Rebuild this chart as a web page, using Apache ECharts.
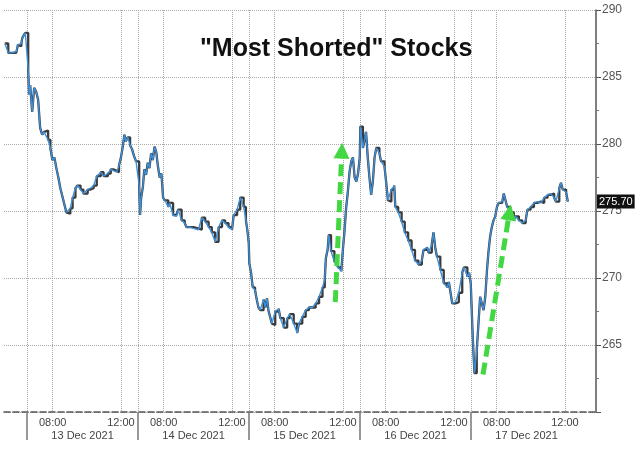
<!DOCTYPE html>
<html>
<head>
<meta charset="utf-8">
<script src="https://cdn.jsdelivr.net/npm/echarts@6/dist/echarts.min.js"></script>
<style>html,body{margin:0;padding:0;background:#fff;}#c{width:640px;height:449px;}</style>
</head>
<body>
<div id="c"></div>
<script>
// Session clock 06:30-13:00; day index relative to 13 Dec 2021
const dayNames = ['13 Dec 2021','14 Dec 2021','15 Dec 2021','16 Dec 2021','17 Dec 2021'];
const timeTickLabels = ['08:00','12:00'];
const lastPrice = 275.70;

const dec10Times = ['11:42','11:54','12:06','12:22','12:28','12:34','12:40','12:43','12:48','12:54'];
const dec10Prices = [287.5,286.8,286.8,286.9,287.4,287.3,287.5,287.9,288.1,288.3];

const dec13Times = ['06:34','06:37','06:41','06:48','06:55','07:02','07:09','07:16','07:23','07:30','07:37','07:44','07:52','07:59','08:06','08:13','08:20','08:27','08:34','08:41','08:48','08:55','09:02','09:10','09:20','09:27','09:38','09:48','10:03','10:13','10:24','10:35','10:49','10:59','11:14','11:24','11:35','11:45','11:53','12:00','12:07','12:12','12:17','12:24','12:32','12:39','12:46','12:53','12:58'];
const dec13Prices = [285.5,283.7,284.4,282.4,284.2,283.9,283.3,281.2,280.7,280.9,281.0,280.3,279.7,278.8,279.0,278.2,277.5,276.7,276.1,275.5,274.9,274.8,275.2,276.0,276.7,276.9,276.6,276.3,276.6,276.7,276.9,277.6,277.9,277.6,277.8,278.1,278.0,277.9,278.4,279.0,279.9,280.7,280.2,280.5,279.9,279.6,279.1,278.7,278.7];

const dec14Times = ['06:34','06:37','06:41','06:47','06:52','06:58','07:04','07:10','07:16','07:22','07:28','07:34','07:40','07:46','07:52','07:58','08:04','08:16','08:21','08:33','08:45','08:51','09:03','09:14','09:20','09:32','09:44','09:50','10:02','10:14','10:26','10:38','10:49','11:01','11:13','11:25','11:36','11:48','12:00','12:06','12:18','12:29','12:41','12:49','12:55','12:59'];
const dec14Prices = [276.9,274.7,276.0,276.8,278.1,277.7,278.6,278.2,279.3,278.8,279.8,279.4,278.3,277.5,277.8,276.0,275.8,275.3,275.6,274.7,274.6,275.1,274.3,274.1,273.8,273.8,273.7,273.7,273.6,274.5,274.2,273.8,273.4,272.7,273.8,274.3,274.1,273.8,273.6,274.7,275.1,276.0,275.3,274.3,273.4,272.6];

const dec15Times = ['06:31','06:37','06:43','06:51','06:57','07:03','07:09','07:21','07:27','07:33','07:38','07:44','07:50','07:56','08:02','08:14','08:20','08:32','08:38','08:44','08:53','09:07','09:19','09:25','09:37','09:49','10:00','10:12','10:24','10:36','10:48','10:56','11:00','11:06','11:10','11:18','11:30','11:42','11:54','12:00','12:05','12:11','12:17','12:23','12:29','12:35','12:41','12:47','12:53','12:59'];
const dec15Prices = [271.1,270.4,269.3,269.1,268.4,267.8,267.6,268.4,267.8,268.5,267.6,267.1,266.6,266.5,267.5,267.7,267.0,266.3,266.3,267.0,267.3,266.6,265.9,266.6,267.1,267.6,267.8,267.8,268.1,268.6,269.3,269.9,271.5,272.1,273.2,272.0,271.2,270.8,270.5,272.2,273.4,275.2,276.4,277.9,278.7,279.0,277.5,277.2,277.8,279.0];

const dec16Times = ['06:31','06:40','06:45','06:51','06:57','07:03','07:09','07:15','07:21','07:27','07:38','07:44','07:56','08:02','08:08','08:14','08:20','08:30','08:34','08:44','08:56','09:07','09:19','09:31','09:43','09:55','10:07','10:13','10:25','10:31','10:42','10:48','10:54','11:00','11:12','11:24','11:36','11:42','11:48','11:54','12:05','12:17','12:29','12:35','12:47','12:53','12:59'];
const dec16Prices = [281.3,279.7,280.2,280.9,279.0,277.5,276.2,277.2,279.0,279.7,279.3,278.7,278.3,277.1,275.8,275.7,276.6,276.9,275.3,274.9,274.2,273.4,272.8,272.1,271.3,271.0,271.3,272.1,272.3,271.9,272.5,273.4,272.3,271.6,270.6,269.6,269.3,269.7,268.9,268.1,268.2,268.9,270.4,270.8,270.1,270.4,269.6];

const dec17Times = ['06:32','06:35','06:38','06:42','06:50','06:56','07:02','07:08','07:14','07:20','07:26','07:31','07:37','07:43','07:49','07:55','08:01','08:07','08:19','08:25','08:31','08:37','08:48','09:00','09:06','09:18','09:30','09:42','09:48','09:59','10:11','10:23','10:35','10:47','10:59','11:10','11:22','11:28','11:40','11:46','11:52','12:04','12:10'];
const dec17Prices = [267.8,266.1,264.6,262.9,264.6,266.6,268.6,268.1,267.6,268.6,270.6,271.9,273.1,273.8,274.3,274.6,275.3,275.6,275.7,276.3,275.8,275.3,274.9,274.3,274.6,274.3,274.1,274.3,275.1,275.3,275.6,275.7,275.6,276.0,276.2,276.3,276.0,275.7,276.7,277.1,276.6,276.4,275.7];

// Annotation arrows: [day index, start time, start price, day index, end time, end price]
const arrowSpecs = [
  [2, '11:33', 268.2, 2, '11:56', 279.5],
  [4, '07:12', 262.8, 4, '08:45', 274.9]
];

const SESSION = 390;
function toX(dayIdx, hhmm) {
  const p = hhmm.split(':').map(Number);
  return dayIdx * SESSION + p[0] * 60 + p[1] - 390;
}
function build(dayIdx, times, prices) {
  return times.map((t, i) => [toX(dayIdx, t), prices[i]]);
}
const seriesData = [].concat(
  build(-1, dec10Times, dec10Prices),
  build(0, dec13Times, dec13Prices),
  build(1, dec14Times, dec14Prices),
  build(2, dec15Times, dec15Prices),
  build(3, dec16Times, dec16Prices),
  build(4, dec17Times, dec17Prices)
);

const separators = dayNames.map((d, i) => i * SESSION);
const timeLabelVals = [];
dayNames.forEach((d, i) => { timeLabelVals.push(toX(i, timeTickLabels[0]), toX(i, timeTickLabels[1])); });
const gridVals = separators.concat(timeLabelVals).sort((a, b) => a - b);
const dateCenters = dayNames.map((d, i) => i * SESSION + SESSION / 2);

const font = "'Liberation Sans', Arial, sans-serif";
const xMin = -81, xMax = 1999;

const chart = echarts.init(document.getElementById('c'), null, {renderer: 'canvas'});
chart.setOption({
  animation: false,
  backgroundColor: '#fff',
  title: {
    text: '"Most Shorted" Stocks',
    left: 195, top: 32,
    textStyle: {fontFamily: font, fontSize: 25, fontWeight: 'bold', color: '#111'}
  },
  grid: {left: 4, right: 44, top: 10, bottom: 37},
  xAxis: [{
    type: 'value', min: xMin, max: xMax, position: 'bottom',
    axisLine: {show: true, onZero: false, lineStyle: {color: '#555', type: 'dashed', width: 1.5}},
    axisTick: {show: false, customValues: gridVals},
    splitLine: {show: true, lineStyle: {color: '#aaa', type: 'dotted', width: 1}},
    axisLabel: {
      customValues: timeLabelVals, margin: 5,
      fontFamily: font, fontSize: 11, color: '#444',
      formatter: v => (((v % SESSION) + SESSION) % SESSION === 90 ? timeTickLabels[0] : timeTickLabels[1])
    }
  }, {
    type: 'value', min: xMin, max: xMax, position: 'bottom',
    axisLine: {show: false, onZero: false},
    axisTick: {show: true, customValues: separators, length: 28, lineStyle: {color: '#777', width: 1.5}},
    splitLine: {show: false},
    axisLabel: {
      customValues: dateCenters, margin: 18,
      fontFamily: font, fontSize: 11, color: '#444',
      formatter: v => dayNames[Math.round((v - SESSION / 2) / SESSION)]
    }
  }],
  yAxis: {
    type: 'value', position: 'right', min: 260, max: 290, interval: 5,
    axisLine: {show: true, onZero: false, lineStyle: {color: '#555', width: 1.5}},
    axisTick: {show: true, length: 5, lineStyle: {color: '#555'}},
    minorTick: {show: true, splitNumber: 2, length: 3, lineStyle: {color: '#777'}},
    splitLine: {show: true, lineStyle: {color: '#aaa', type: 'dotted'}},
    axisLabel: {margin: 6, fontFamily: font, fontSize: 12, color: '#555',
      formatter: v => (v === 260 ? '' : String(v))}
  },
  series: [{
    type: 'line', data: seriesData, step: 'end', showSymbol: false, silent: true,
    lineStyle: {color: '#3b3b3b', width: 2.3},
    z: 2
  }, {
    type: 'line', data: seriesData, showSymbol: false, silent: true,
    lineStyle: {color: '#3d8fd9', width: 1.4},
    z: 3,
    markLine: {
      silent: true, symbol: 'none',
      lineStyle: {color: 'rgba(0,0,0,0)', width: 0},
      label: {show: true, position: 'end', distance: 1, formatter: lastPrice.toFixed(2),
        backgroundColor: '#111', color: '#fff', padding: [2, 2, 1, 2], fontSize: 11, fontFamily: font},
      data: [{yAxis: lastPrice}]
    }
  }, {
    type: 'line', data: [], silent: true, z: 5,
    markLine: {
      silent: true, symbol: ['none', 'triangle'], symbolSize: 16,
      label: {show: false},
      lineStyle: {color: '#43d843', width: 5, type: [12, 6], opacity: 1},
      itemStyle: {color: '#43d843'},
      data: arrowSpecs.map(a => [{coord: [toX(a[0], a[1]), a[2]]}, {coord: [toX(a[3], a[4]), a[5]]}])
    }
  }]
});
</script>
</body>
</html>
